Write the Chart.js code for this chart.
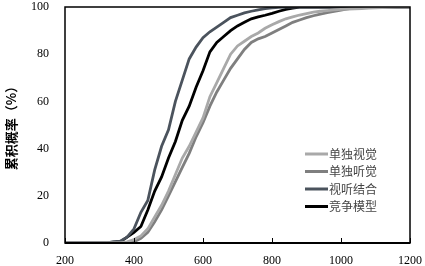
<!DOCTYPE html>
<html>
<head>
<meta charset="utf-8">
<script src="https://cdn.jsdelivr.net/npm/chart.js@4"></script>
<style>
  html, body { margin: 0; padding: 0; background: #fff; }
  #wrap { width: 425px; height: 266px; position: relative; }
</style>
</head>
<body>
<div id="wrap"><canvas id="cdfChart"></canvas></div>
<script>
// reaction time (ms)
const rt = [200, 300, 320, 340, 360, 380, 400, 420, 440, 460, 480, 500, 520, 540, 560, 580, 600, 620, 640, 660,
    680, 700, 720, 740, 760, 780, 800, 820, 840, 860, 880, 900, 920, 940, 960, 980, 1000, 1020, 1040, 1060,
    1080, 1100, 1120, 1140, 1160, 1180, 1200];

// cumulative probability (%)
const visualOnly = [0, 0, 0, 0, 0, 0.5, 1.5, 3, 6, 11, 16, 22, 29, 36, 41, 47, 53, 62, 68, 74,
    80, 83.5, 85.5, 87.5, 89, 91, 92.5, 93.8, 95, 95.8, 96.6, 97.2, 97.8, 98.2, 98.5, 98.8, 99, 99.1, 99.2, 99.3,
    99.5, 99.6, 99.7, 99.9, 100, 100, 100];
const auditoryOnly = [0, 0, 0, 0, 0, 0, 0.5, 2, 4.5, 9, 14, 20, 26, 32, 38, 45, 51, 58, 64, 69,
    74, 78, 82, 85, 86.5, 87.5, 89, 90.5, 92, 93.5, 94.5, 95.5, 96.3, 97, 97.6, 98.1, 98.7, 99.2, 99.6, 100,
    100, 100, 100, 100, 100, 100, 100];
const audioVisual = [0, 0, 0, 0.6, 0.8, 2.5, 6, 13, 18, 31, 41, 48, 60, 69, 78, 83, 87, 89.5, 91.5, 93.5,
    95.5, 96.5, 97.5, 98.2, 98.8, 99.3, 99.6, 99.8, 100, 100, 100, 100, 100, 100, 100, 100, 100, 100, 100, 100,
    100, 100, 100, 100, 100, 100, 100];
const raceModel = [0, 0, 0, 0, 0.5, 2.5, 4.5, 7, 14, 22, 28, 36, 43, 52, 58, 66, 73, 81, 85, 87.5,
    90, 92, 93.5, 95, 95.8, 96.5, 97.3, 98.2, 99, 99.5, 100, 100, 100, 100, 100, 100, 100, 100, 100, 100,
    100, 100, 100, 100, 100, 100, 100];

const seriesLabels = ['单独视觉', '单独听觉', '视听结合', '竞争模型'];
const seriesColors = ['#a9a9a9', '#7f7f7f', '#4b535d', '#000000'];
const xTicks = [200, 400, 600, 800, 1000, 1200];
const yTicks = [0, 20, 40, 60, 80, 100];

const tickFont = { family: 'Liberation Serif, serif', size: 12 };

function toPoints(values) {
    return values.map((v, i) => ({ x: rt[i], y: v }));
}

const seriesValues = [visualOnly, auditoryOnly, audioVisual, raceModel];

// frame, inside ticks and legend drawn by hand
const framePlugin = {
    id: 'frame',
    afterDraw(chart) {
        const ctx = chart.ctx;
        const area = chart.chartArea;
        const xScale = chart.scales.x;
        ctx.save();
        ctx.strokeStyle = '#000';
        ctx.lineWidth = 1.5;
        ctx.strokeRect(area.left, area.top, area.right - area.left, area.bottom - area.top);
        ctx.lineWidth = 2;
        ctx.beginPath();
        ctx.moveTo(area.left, area.bottom);
        ctx.lineTo(area.right, area.bottom);
        ctx.stroke();
        ctx.lineWidth = 1;
        xTicks.forEach(t => {
            const px = Math.round(xScale.getPixelForValue(t)) + 0.5;
            ctx.beginPath();
            ctx.moveTo(px, area.bottom);
            ctx.lineTo(px, area.bottom - 5);
            ctx.stroke();
        });

        // legend
        ctx.font = '12px "Noto Sans CJK SC", sans-serif';
        ctx.textBaseline = 'middle';
        ctx.textAlign = 'left';
        chart.data.datasets.forEach((ds, i) => {
            const y = 154 + i * 17.5;
            ctx.strokeStyle = ds.borderColor;
            ctx.lineWidth = 3;
            ctx.beginPath();
            ctx.moveTo(305, y);
            ctx.lineTo(328, y);
            ctx.stroke();
            ctx.fillStyle = '#444';
            ctx.fillText(ds.label, 329, y);
        });
        ctx.restore();
    }
};

const ctx = document.getElementById('cdfChart').getContext('2d');
new Chart(ctx, {
    type: 'line',
    data: {
        datasets: seriesValues.map((vals, i) => ({
            label: seriesLabels[i],
            data: toPoints(vals),
            borderColor: seriesColors[i],
            borderWidth: 2.8,
            pointRadius: 0,
            tension: 0,
            fill: false
        }))
    },
    options: {
        responsive: true,
        maintainAspectRatio: false,
        animation: false,
        layout: { padding: { top: 7, right: 15, left: 3, bottom: 0 } },
        plugins: {
            legend: { display: false },
            tooltip: { enabled: false }
        },
        scales: {
            x: {
                type: 'linear',
                min: 200,
                max: 1200,
                grid: { display: false },
                border: { display: false },
                afterBuildTicks: axis => { axis.ticks = xTicks.map(v => ({ value: v })); },
                afterFit: axis => { axis.height = 23; axis.paddingRight = 0; axis.paddingLeft = 0; },
                ticks: { color: '#000', font: tickFont, padding: 3, maxRotation: 0, callback: v => String(v) }
            },
            y: {
                min: 0,
                max: 100,
                grid: { display: false },
                border: { display: false },
                afterBuildTicks: axis => { axis.ticks = yTicks.map(v => ({ value: v })); },
                afterFit: axis => { axis.width = 62; axis.paddingTop = 0; axis.paddingBottom = 0; },
                ticks: { color: '#000', font: tickFont, padding: 8, callback: v => String(v) },
                title: {
                    display: true,
                    text: '累积概率（%）',
                    color: '#000',
                    font: { family: '"Noto Sans CJK SC", sans-serif', size: 13, weight: 'bold' },
                    padding: { top: 0, bottom: 4 }
                }
            }
        }
    },
    plugins: [framePlugin]
});
</script>
</body>
</html>
